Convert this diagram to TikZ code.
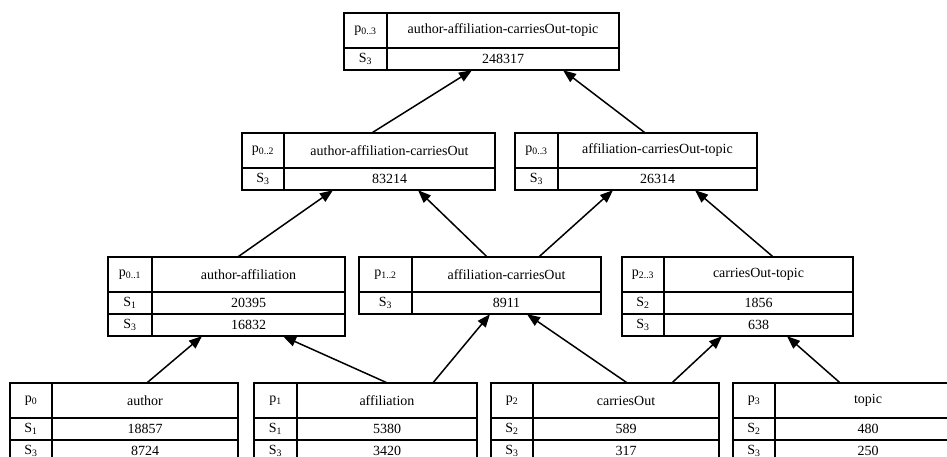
\documentclass[tikz,border=0pt]{standalone}
\usepackage{fontspec}
\setmainfont{Liberation Serif}
\usetikzlibrary{positioning,arrows.meta,fit}

\newcommand{\proptable}[7]{%
  \node[cell, anchor=north west, minimum width=#4, minimum height=35] (#1-p) at #2 {#5};
  \node[cell, anchor=north west, minimum width=#3-#4, minimum height=35] (#1-t) at (#1-p.north east) {#6};
  \foreach \s/\v [count=\i] in {#7} {
    \node[cell, anchor=north west, minimum width=#4, minimum height=22, yshift={-22*(\i-1)}] (#1-s\i) at (#1-p.south west) {S\textsubscript{\s}};
    \node[cell, anchor=north west, minimum width=#3-#4, minimum height=22] (#1-v\i) at (#1-s\i.north east) {\v};
    \xdef\lastrow{\i}
  }
  \node[fit=(#1-p) (#1-v\lastrow), inner sep=0pt] (#1) {};
}

\begin{document}
\begin{tikzpicture}[x=1pt, y=-1pt,
  every node/.style={font=\fontsize{14}{16}\selectfont},
  cell/.style={draw, line width=1.5pt, inner sep=0pt, outer sep=0pt},
  arr/.style={-{Triangle[length=13pt, width=10pt]}, line width=1.5pt}]
  \useasboundingbox (0,0) rectangle (947,457);
  \clip (0,0) rectangle (947,457);

  \proptable{full}{(344,13)}{275}{43}{p\textsubscript{0..3}}{author-affiliation-carriesOut-topic}{3/248317}
  \proptable{aac}{(242,133)}{253}{42}{p\textsubscript{0..2}}{author-affiliation-carriesOut}{3/83214}
  \proptable{act}{(515,133)}{242}{43}{p\textsubscript{0..3}}{affiliation-carriesOut-topic}{3/26314}
  \proptable{aa}{(108,257)}{237}{44}{p\textsubscript{0..1}}{author-affiliation}{1/20395, 3/16832}
  \proptable{ac}{(359,257)}{242}{53}{p\textsubscript{1..2}}{affiliation-carriesOut}{3/8911}
  \proptable{ct}{(622,257)}{231}{42}{p\textsubscript{2..3}}{carriesOut-topic}{2/1856, 3/638}
  \proptable{au}{(10,383)}{228}{42}{p\textsubscript{0}}{author}{1/18857, 3/8724}
  \proptable{af}{(254,383)}{223}{43}{p\textsubscript{1}}{affiliation}{1/5380, 3/3420}
  \proptable{co}{(491,383)}{228}{42}{p\textsubscript{2}}{carriesOut}{2/589, 3/317}
  \proptable{to}{(733,383)}{228}{42}{p\textsubscript{3}}{topic}{2/480, 3/250}

  \draw[arr] ([xshift=3.5]aac.north) -- ([xshift=-9.5]full.south);
  \draw[arr] ([xshift=9]act.north) -- ([xshift=81.5]full.south);
  \draw[arr] ([xshift=11.5]aa.north) -- ([xshift=-35.5]aac.south);
  \draw[arr] ([xshift=7]ac.north) -- ([xshift=49.5]aac.south);
  \draw[arr] ([xshift=59]ac.north) -- ([xshift=-23]act.south);
  \draw[arr] ([xshift=35.5]ct.north) -- ([xshift=59]act.south);
  \draw[arr] ([xshift=23]au.north) -- ([xshift=-24.5]aa.south);
  \draw[arr] ([xshift=21.5]af.north) -- ([xshift=56.5]aa.south);
  \draw[arr] ([xshift=67.5]af.north) -- ([xshift=10]ac.south);
  \draw[arr] ([xshift=22]co.north) -- ([xshift=47]ac.south);
  \draw[arr] ([xshift=67]co.north) -- ([xshift=-15.5]ct.south);
  \draw[arr] ([xshift=-7]to.north) -- ([xshift=49.5]ct.south);
\end{tikzpicture}
\end{document}
